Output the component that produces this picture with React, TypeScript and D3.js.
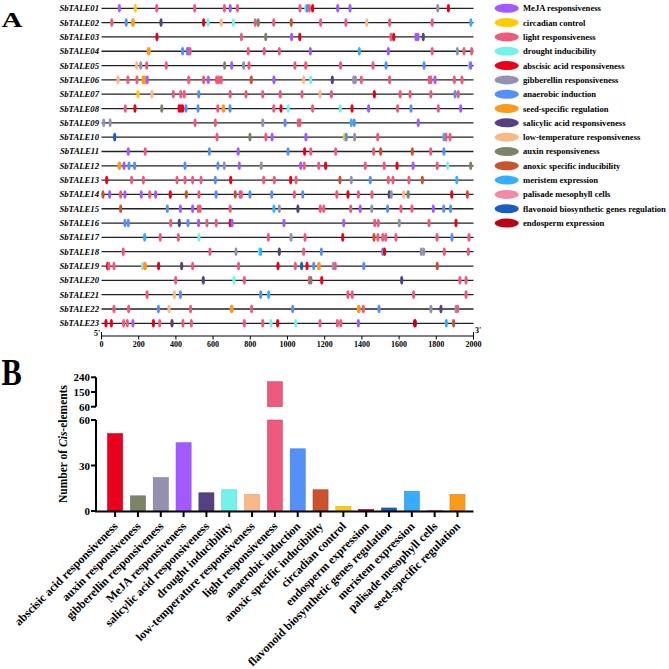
import React from 'react'
import * as d3 from 'd3'

// cis-element classes: key, legend label, colour
const elementKeys = ['MeJA', 'circ', 'light', 'drought', 'ABA', 'GA', 'anaer', 'seed', 'SA', 'LT', 'auxin', 'anoxic', 'meri', 'pal', 'flav', 'endo']
const elementLabels = [
  'MeJA responsiveness', 'circadian control', 'light responsiveness', 'drought inducibility',
  'abscisic acid responsiveness', 'gibberellin responsiveness', 'anaerobic induction',
  'seed-specific regulation', 'salicylic acid responsiveness', 'low-temperature responsiveness',
  'auxin responsiveness', 'anoxic specific inducibility', 'meristem expression',
  'palisade mesophyll cells', 'flavonoid biosynthetic genes regulation', 'endosperm expression',
]
const elementColors = [
  '#a259ff', '#ffcc00', '#ee5a7e', '#72f3ea', '#e8001c', '#9590b0', '#5590f5', '#f99c1c',
  '#554080', '#f9b888', '#7b8467', '#c8532e', '#36adff', '#f08aa8', '#1a5cc0', '#b80018',
]

const genes = d3.range(1, 24).map(i => `SbTALE${String(i).padStart(2, '0')}`)

// [position (bp upstream), element]
const sites: [number, string][][] = [
  [[96, 'MeJA'], [182, 'circ'], [297, 'light'], [501, 'light'], [661, 'light'], [692, 'MeJA'], [731, 'light'], [1067, 'light'], [1099, 'drought'], [1106, 'anaer'], [1117, 'light'], [1135, 'ABA'], [1270, 'MeJA'], [1336, 'MeJA'], [1808, 'GA'], [1865, 'ABA']],
  [[55, 'light'], [133, 'anaer'], [169, 'seed'], [320, 'SA'], [549, 'ABA'], [573, 'drought'], [644, 'LT'], [709, 'drought'], [827, 'light'], [843, 'auxin'], [926, 'light'], [1020, 'anoxic'], [1178, 'light'], [1314, 'light'], [1426, 'LT'], [1549, 'light'], [1778, 'light'], [1986, 'meri']],
  [[298, 'ABA'], [752, 'light'], [883, 'auxin'], [1022, 'MeJA'], [1066, 'ABA'], [1556, 'light'], [1571, 'ABA'], [1691, 'MeJA'], [1702, 'MeJA'], [1730, 'SA']],
  [[254, 'seed'], [436, 'anaer'], [461, 'anaer'], [469, 'MeJA'], [476, 'light'], [789, 'light'], [875, 'light'], [956, 'light'], [1123, 'MeJA'], [1386, 'meri'], [1542, 'MeJA'], [1778, 'light'], [1913, 'GA'], [1949, 'light'], [1990, 'light']],
  [[189, 'LT'], [211, 'GA'], [243, 'light'], [348, 'light'], [662, 'auxin'], [700, 'MeJA'], [764, 'GA'], [793, 'light'], [1040, 'light'], [1098, 'light'], [1286, 'light'], [1460, 'light'], [1530, 'anaer'], [1734, 'anaer'], [1978, 'drought'], [1985, 'MeJA']],
  [[89, 'LT'], [142, 'light'], [191, 'light'], [225, 'seed'], [232, 'seed'], [246, 'MeJA'], [469, 'light'], [549, 'light'], [574, 'MeJA'], [619, 'light'], [630, 'light'], [644, 'light'], [805, 'anoxic'], [927, 'MeJA'], [1087, 'LT'], [1125, 'drought'], [1241, 'SA'], [1356, 'GA'], [1365, 'GA'], [1397, 'light'], [1549, 'light'], [1762, 'light'], [1771, 'light'], [1793, 'MeJA'], [1897, 'light'], [1938, 'light']],
  [[196, 'circ'], [271, 'LT'], [386, 'light'], [426, 'light'], [445, 'light'], [523, 'anaer'], [692, 'light'], [777, 'light'], [867, 'light'], [961, 'light'], [1078, 'light'], [1175, 'LT'], [1236, 'light'], [1467, 'ABA'], [1606, 'light'], [1659, 'light'], [1771, 'light'], [1901, 'anaer'], [1918, 'light']],
  [[128, 'light'], [180, 'ABA'], [324, 'auxin'], [417, 'ABA'], [427, 'ABA'], [436, 'ABA'], [454, 'anaer'], [519, 'anaer'], [625, 'light'], [655, 'seed'], [691, 'anaer'], [926, 'light'], [965, 'ABA'], [1004, 'drought'], [1135, 'light'], [1284, 'drought'], [1347, 'ABA'], [1436, 'MeJA'], [1592, 'light'], [1664, 'anaer'], [1811, 'light'], [1931, 'MeJA']],
  [[12, 'GA'], [46, 'GA'], [503, 'light'], [612, 'light'], [867, 'GA'], [987, 'anaer'], [1058, 'light'], [1067, 'light'], [1343, 'meri'], [1359, 'anaer'], [1703, 'MeJA']],
  [[71, 'flav'], [621, 'light'], [798, 'auxin'], [884, 'light'], [917, 'MeJA'], [1099, 'MeJA'], [1307, 'circ'], [1316, 'anaer'], [1361, 'GA'], [1485, 'light'], [1841, 'meri'], [1852, 'light'], [1874, 'light']],
  [[144, 'MeJA'], [235, 'light'], [580, 'anaer'], [735, 'MeJA'], [1003, 'anaer'], [1092, 'ABA'], [1125, 'light'], [1259, 'light'], [1463, 'light'], [1501, 'anoxic'], [1671, 'anoxic'], [1770, 'light'], [1841, 'anaer']],
  [[96, 'seed'], [121, 'MeJA'], [148, 'anaer'], [178, 'anaer'], [449, 'anaer'], [626, 'anaer'], [660, 'GA'], [741, 'MeJA'], [859, 'GA'], [1071, 'MeJA'], [1090, 'light'], [1168, 'light'], [1205, 'ABA'], [1418, 'light'], [1520, 'light'], [1589, 'ABA'], [1675, 'MeJA'], [1805, 'light'], [1861, 'drought'], [1985, 'auxin']],
  [[28, 'ABA'], [162, 'light'], [225, 'light'], [406, 'light'], [449, 'light'], [490, 'light'], [535, 'light'], [612, 'anaer'], [695, 'ABA'], [872, 'light'], [929, 'light'], [1017, 'ABA'], [1046, 'light'], [1282, 'anoxic'], [1343, 'GA'], [1445, 'anaer'], [1542, 'light'], [1567, 'light'], [1653, 'light'], [1725, 'anoxic'], [1910, 'meri']],
  [[8, 'anoxic'], [44, 'MeJA'], [103, 'light'], [126, 'MeJA'], [214, 'MeJA'], [259, 'light'], [291, 'MeJA'], [370, 'ABA'], [456, 'anoxic'], [524, 'light'], [616, 'anaer'], [719, 'anoxic'], [745, 'MeJA'], [752, 'light'], [798, 'anaer'], [915, 'anaer'], [1037, 'light'], [1082, 'anaer'], [1265, 'light'], [1325, 'ABA'], [1381, 'light'], [1454, 'light'], [1547, 'SA'], [1558, 'GA'], [1625, 'LT'], [1649, 'auxin'], [1883, 'ABA'], [1967, 'anoxic']],
  [[103, 'anoxic'], [354, 'anaer'], [424, 'MeJA'], [490, 'MeJA'], [520, 'light'], [530, 'light'], [692, 'light'], [927, 'meri'], [956, 'GA'], [1056, 'SA'], [1176, 'light'], [1195, 'light'], [1340, 'light'], [1391, 'MeJA'], [1453, 'GA'], [1538, 'anaer'], [1610, 'light'], [1669, 'light'], [1784, 'MeJA'], [1840, 'anaer'], [1877, 'anaer']],
  [[126, 'anaer'], [144, 'anaer'], [372, 'light'], [418, 'SA'], [465, 'anaer'], [522, 'MeJA'], [567, 'light'], [617, 'light'], [692, 'ABA'], [702, 'MeJA'], [981, 'MeJA'], [1302, 'MeJA'], [1469, 'light'], [1488, 'light'], [1601, 'GA'], [1761, 'light'], [1906, 'ABA']],
  [[232, 'meri'], [316, 'light'], [413, 'light'], [524, 'drought'], [897, 'light'], [1019, 'GA'], [1094, 'light'], [1297, 'ABA'], [1465, 'anoxic'], [1486, 'light'], [1512, 'light'], [1528, 'light'], [1583, 'light'], [1804, 'light'], [1884, 'anaer'], [1976, 'light']],
  [[117, 'light'], [583, 'light'], [723, 'GA'], [849, 'drought'], [856, 'meri'], [956, 'SA'], [1087, 'light'], [1182, 'anaer'], [1512, 'anaer'], [1522, 'ABA'], [1719, 'GA'], [1732, 'GA'], [1843, 'light'], [1972, 'light']],
  [[33, 'ABA'], [40, 'light'], [67, 'light'], [221, 'drought'], [234, 'seed'], [307, 'ABA'], [431, 'SA'], [490, 'light'], [737, 'light'], [949, 'ABA'], [1042, 'light'], [1076, 'flav'], [1105, 'ABA'], [1141, 'anaer'], [1169, 'seed'], [1246, 'GA'], [1257, 'light'], [1410, 'anaer'], [1805, 'anoxic']],
  [[399, 'light'], [547, 'SA'], [712, 'drought'], [768, 'light'], [1117, 'light'], [1126, 'auxin'], [1184, 'ABA'], [1614, 'SA'], [1927, 'light'], [1960, 'light']],
  [[245, 'light'], [392, 'LT'], [424, 'anaer'], [856, 'anaer'], [899, 'meri'], [1325, 'light'], [1348, 'light'], [1678, 'light'], [1960, 'light']],
  [[67, 'light'], [146, 'light'], [306, 'anaer'], [363, 'LT'], [479, 'light'], [700, 'seed'], [807, 'light'], [1028, 'anaer'], [1383, 'seed'], [1408, 'light'], [1492, 'anaer'], [1771, 'GA'], [1825, 'SA'], [1906, 'GA'], [1915, 'light']],
  [[24, 'ABA'], [53, 'ABA'], [119, 'light'], [139, 'light'], [169, 'MeJA'], [279, 'ABA'], [313, 'light'], [379, 'SA'], [438, 'light'], [483, 'light'], [768, 'light'], [867, 'light'], [911, 'drought'], [947, 'ABA'], [1044, 'drought'], [1175, 'light'], [1268, 'light'], [1286, 'light'], [1381, 'MeJA'], [1685, 'endo'], [1854, 'meri'], [1893, 'anoxic']],
]

const posTicks = d3.range(0, 2001, 200)

// panel B, counts per class (alphabetical)
const barCats = ['ABA', 'auxin', 'GA', 'MeJA', 'SA', 'drought', 'LT', 'light', 'anaer', 'anoxic', 'circ', 'endo', 'flav', 'meri', 'pal', 'seed']
const barCounts = [51, 10, 22, 45, 12, 14, 11, 213, 41, 14, 3, 1, 2, 13, 0.5, 11]
const lowTicks = [0, 30, 60]
const highTicks = [60, 150, 240]

const serif = '"Liberation Serif", "Times New Roman", serif'

export default function App() {
  const color = d3.scaleOrdinal<string, string>().domain(elementKeys).range(elementColors)
  const labelOf = d3.scaleOrdinal<string, string>().domain(elementKeys).range(elementLabels)

  // panel A
  const x = d3.scaleLinear().domain([0, 2000]).range([101.5, 473.5])
  const y = d3.scalePoint<string>().domain(genes).range([8.3, 323.3])
  const axisY = 336

  // panel B
  const xb = d3.scaleBand<string>().domain(barCats).range([103.7, 468.9]).paddingInner(0.34).paddingOuter(0.17)
  const yLow = d3.scaleLinear().domain([0, 60]).range([511, 420])
  const yHigh = d3.scaleLinear().domain([60, 240]).range([406.7, 377.3])
  const axisX = 96

  return (
    <svg width={669} height={669} style={{ position: 'absolute', left: 0, top: 0, background: '#fff' }} fontFamily={serif}>
      <text fontSize={22} fontWeight="bold" transform="translate(1.5,27) scale(1.32,1)">A</text>
      <text fontSize={37} fontWeight="bold" transform="translate(1.5,385) scale(0.82,1)">B</text>

      {/* gene rows */}
      {genes.map((g, i) => (
        <g key={g}>
          <text x={99} y={y(g)! + 3} textAnchor="end" fontSize={8.7} fontWeight="bold" fontStyle="italic">{g}</text>
          <line x1={x(0)} x2={x(2000)} y1={y(g)} y2={y(g)} stroke="#222" strokeWidth={1.3} />
          {sites[i].map(([p, k], j) => (
            <ellipse key={j} cx={x(p)} cy={y(g)} rx={k === 'seed' || k === 'endo' ? 2 : 1.6} ry={4.3} fill={color(k)} />
          ))}
        </g>
      ))}

      {/* position axis */}
      <line x1={x(0)} x2={x(2000)} y1={axisY} y2={axisY} stroke="#000" strokeWidth={1.2} />
      {posTicks.map(t => (
        <g key={t}>
          <line x1={x(t)} x2={x(t)} y1={t === 0 || t === 2000 ? axisY - 4 : axisY} y2={axisY + 3.5} stroke="#000" strokeWidth={1} />
          <text x={x(t)} y={346.5} textAnchor="middle" fontSize={8} fontWeight="bold">{t}</text>
        </g>
      ))}
      <text x={94} y={335.5} fontSize={8} fontWeight="bold">5'</text>
      <text x={475} y={333} fontSize={8} fontWeight="bold">3'</text>

      {/* legend */}
      {elementKeys.map((k, i) => (
        <g key={k}>
          <ellipse cx={506.7} cy={y(genes[i])} rx={12} ry={4.5} fill={color(k)} />
          <text x={523} y={y(genes[i])! + 3} fontSize={8.6} fontWeight="bold">{labelOf(k)}</text>
        </g>
      ))}

      {/* panel B bars */}
      {barCats.map((c, i) => {
        const v = barCounts[i]
        const fill = color(c)
        const stroke = d3.color(fill)!.darker(0.4).toString()
        const bx = xb(c)!
        const w = xb.bandwidth()
        return (
          <g key={c}>
            <rect x={bx} width={w} y={yLow(Math.min(v, 60))} height={yLow(0) - yLow(Math.min(v, 60))} fill={fill} stroke={stroke} strokeWidth={0.6} />
            {v > 60 && (
              <rect x={bx} width={w} y={yHigh(v)} height={yHigh(60) - yHigh(v)} fill={fill} stroke={stroke} strokeWidth={0.6} />
            )}
          </g>
        )
      })}

      {/* y axis, broken */}
      <line x1={axisX} x2={axisX} y1={yLow(60)} y2={yLow(0) + 1} stroke="#000" strokeWidth={2} />
      <line x1={axisX} x2={axisX} y1={yHigh(240)} y2={yHigh(60)} stroke="#000" strokeWidth={2} />
      {lowTicks.map(t => (
        <g key={'l' + t}>
          <line x1={axisX - 5} x2={axisX} y1={yLow(t)} y2={yLow(t)} stroke="#000" strokeWidth={2} />
          <text x={axisX - 6} y={yLow(t) + 4} textAnchor="end" fontSize={11} fontWeight="bold">{t}</text>
        </g>
      ))}
      {highTicks.map(t => (
        <g key={'h' + t}>
          <line x1={axisX - 5} x2={axisX} y1={yHigh(t)} y2={yHigh(t)} stroke="#000" strokeWidth={2} />
          <text x={axisX - 6} y={yHigh(t) + 4} textAnchor="end" fontSize={11} fontWeight="bold">{t}</text>
        </g>
      ))}
      <text transform="translate(67,444) rotate(-90)" textAnchor="middle" fontSize={11.5} fontWeight="bold">
        Number of <tspan fontStyle="italic">Cis</tspan>-elements
      </text>

      {/* x axis */}
      <line x1={axisX - 1} x2={473.5} y1={yLow(0) + 0.5} y2={yLow(0) + 0.5} stroke="#000" strokeWidth={2} />
      {barCats.map(c => {
        const cx = xb(c)! + xb.bandwidth() / 2
        return (
          <g key={'t' + c}>
            <line x1={cx} x2={cx} y1={yLow(0)} y2={yLow(0) + 6} stroke="#000" strokeWidth={2} />
            <text transform={`translate(${cx + 3.5},527) rotate(-45)`} textAnchor="end" fontSize={11.9} fontWeight="bold">{labelOf(c)}</text>
          </g>
        )
      })}
    </svg>
  )
}
